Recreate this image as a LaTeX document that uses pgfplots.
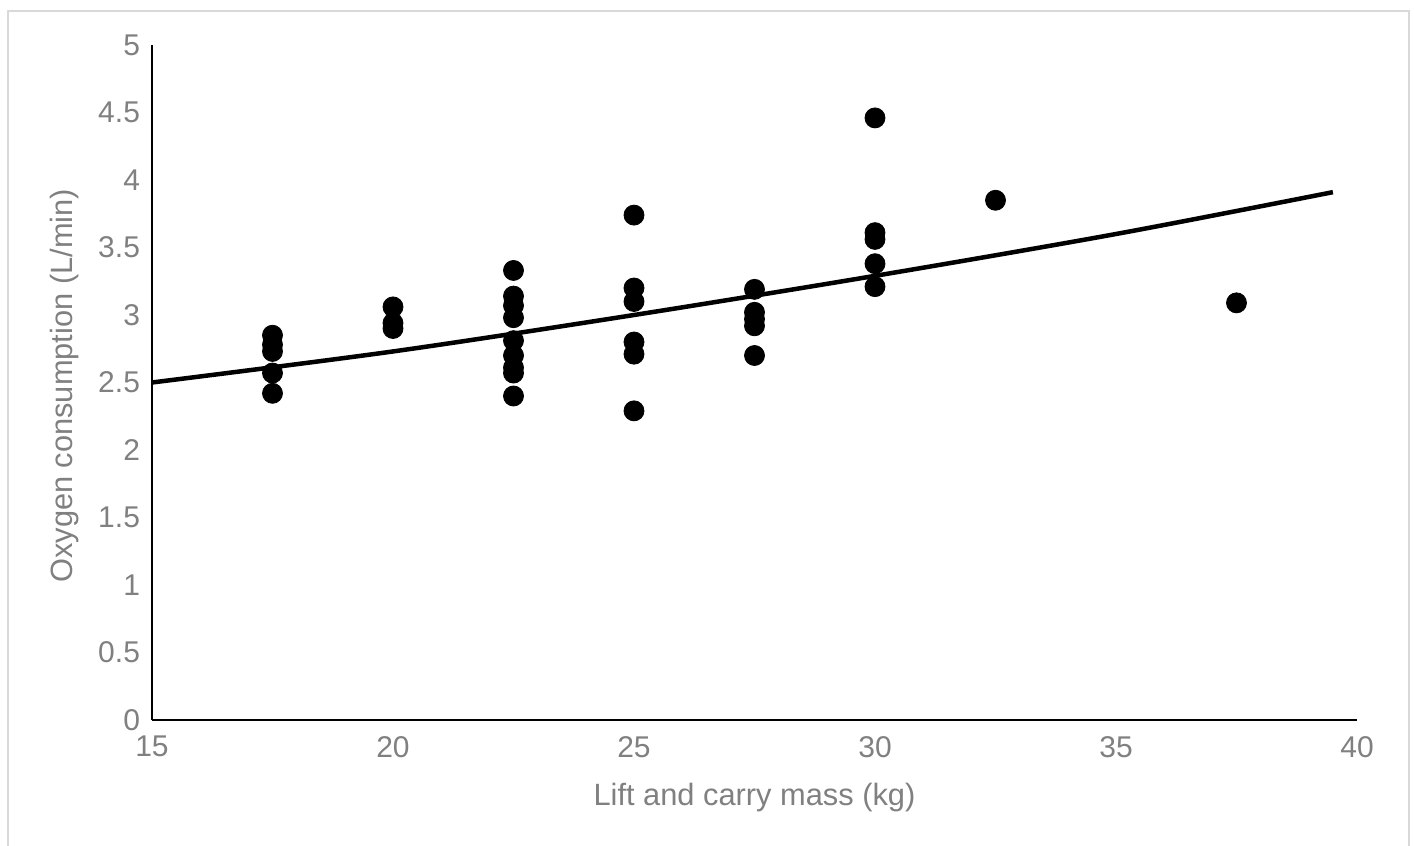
\documentclass[border=0pt]{standalone}
\usepackage{pgfplots}
\pgfplotsset{compat=1.18}
\usepackage{fontspec}
\setmainfont{Liberation Sans}
\definecolor{tickgray}{RGB}{128,128,128}
\definecolor{framegray}{RGB}{217,217,217}
\begin{document}
\begin{tikzpicture}[x=1pt,y=1pt]
\path[use as bounding box] (0,0) rectangle (707,423);
\draw[framegray, line width=1pt] (4,-2) -- (4,417.5) -- (704.5,417.5) -- (704.5,-2);
\begin{axis}[
  at={(76pt,63pt)}, anchor=south west,
  scale only axis, width=602.5pt, height=337.5pt,
  xmin=15, xmax=40, ymin=0, ymax=5,
  xtick={15,20,...,40}, ytick={0,0.5,...,5},
  yticklabels={0,0.5,1,1.5,2,2.5,3,3.5,4,4.5,5},
  axis lines=left, axis line style={black, line width=1pt, -},
  major tick length=0pt,
  font=\fontsize{15}{17}\selectfont,
  tick label style={tickgray},
  /pgf/number format/assume math mode=true,
  xticklabel style={yshift=-4.5pt},
  yticklabel style={xshift=-2.5pt},
  xlabel={Lift and carry mass (kg)},
  ylabel={Oxygen consumption (L/min)},
  label style={tickgray, font=\fontsize{15.4}{17}\selectfont},
  xlabel style={at={(axis description cs:0.5,-0.1156)}, anchor=center},
  ylabel style={at={(axis description cs:-0.0722,0.495)}, anchor=center, rotate=0},
  clip=false,
]
\addplot[only marks, mark=*, mark size=5pt, black] coordinates {
(17.5,2.85) (17.5,2.78) (17.5,2.73) (17.5,2.57) (17.5,2.42)
(20,3.06) (20,2.94) (20,2.90)
(22.5,3.33) (22.5,3.14) (22.5,3.07) (22.5,2.98) (22.5,2.81) (22.5,2.70) (22.5,2.61) (22.5,2.57) (22.5,2.40)
(25,3.74) (25,3.20) (25,3.10) (25,2.80) (25,2.71) (25,2.29)
(27.5,3.19) (27.5,3.02) (27.5,2.97) (27.5,2.92) (27.5,2.70)
(30,4.46) (30,3.61) (30,3.56) (30,3.38) (30,3.21)
(32.5,3.85)
(37.5,3.09)
};
\addplot[black, line width=2.25pt, smooth, no marks] coordinates {
(15,2.50) (20,2.73) (25,3.00) (30,3.29) (35,3.60) (39.5,3.91)
};
\end{axis}
\end{tikzpicture}
\end{document}
